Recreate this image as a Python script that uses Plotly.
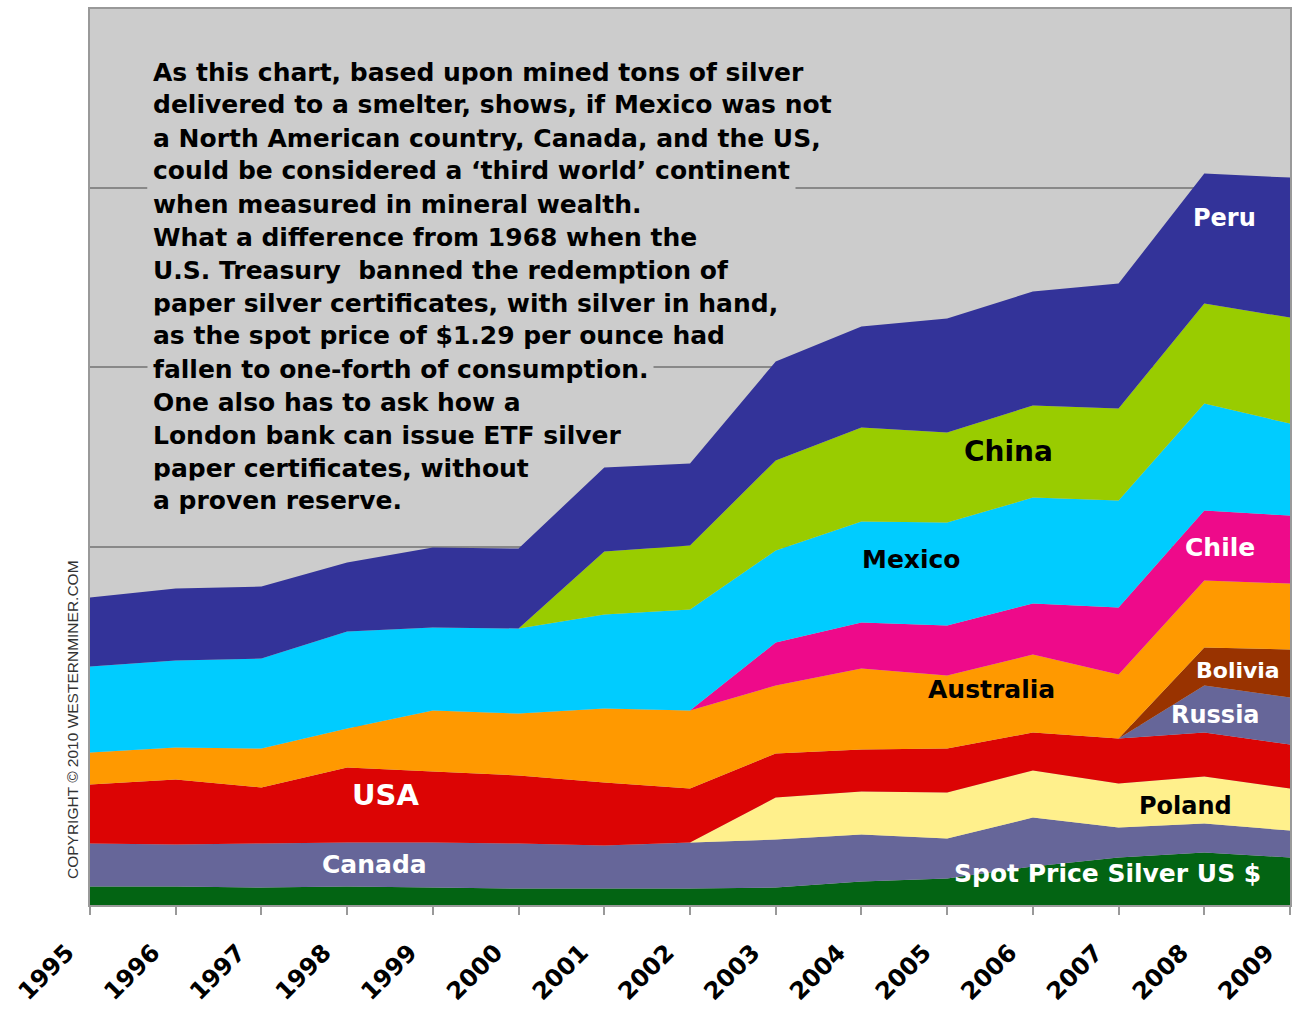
import plotly.graph_objects as go

years = list(range(1995, 2010))
tick_labels = [str(y) for y in years]

# Layer values (stacked, bottom to top) (arbitrary units; gridline = 5000)
spot_price = [516, 516, 488, 516, 488, 460, 460, 460, 488, 656, 739, 1074, 1325, 1465, 1325]
canada = [1200, 1172, 1228, 1228, 1256, 1256, 1200, 1283, 1339, 1311, 1116, 1367, 837, 809, 753]
poland = [0, 0, 0, 0, 0, 0, 0, 0, 1172, 1200, 1283, 1311, 1228, 1311, 1172]
usa = [1646, 1814, 1562, 2093, 1981, 1897, 1758, 1507, 1228, 1172, 1228, 1060, 1256, 1228, 1228]
russia = [0, 0, 0, 0, 0, 0, 0, 0, 0, 0, 0, 0, 0, 1311, 1311]
bolivia = [0, 0, 0, 0, 0, 0, 0, 0, 0, 0, 0, 0, 0, 1060, 1339]
australia = [893, 893, 1088, 1088, 1702, 1730, 2065, 2176, 1897, 2260, 2037, 2176, 1786, 1869, 1841]
chile = [0, 0, 0, 0, 0, 0, 0, 0, 1200, 1283, 1395, 1423, 1869, 1953, 1897]
mexico = [2399, 2427, 2511, 2706, 2316, 2372, 2623, 2818, 2567, 2818, 2874, 2957, 2985, 2985, 2567]
china = [0, 0, 0, 0, 0, 0, 1758, 1786, 2511, 2623, 2511, 2567, 2567, 2790, 2957]
peru = [1925, 2009, 2009, 1925, 2232, 2232, 2344, 2288, 2762, 2818, 3181, 3181, 3488, 3627, 3906]

series = [
    ("Spot Price Silver US $", spot_price, "#036413"),
    ("Canada", canada, "#666699"),
    ("Poland", poland, "#FFF08C"),
    ("USA", usa, "#DC0404"),
    ("Russia", russia, "#666699"),
    ("Bolivia", bolivia, "#993300"),
    ("Australia", australia, "#FF9900"),
    ("Chile", chile, "#EE0A8A"),
    ("Mexico", mexico, "#00CCFF"),
    ("China", china, "#99CC00"),
    ("Peru", peru, "#333399"),
]

paragraph = [
    "As this chart, based upon mined tons of silver",
    "delivered to a smelter, shows, if Mexico was not",
    "a North American country, Canada, and the US,",
    "could be considered a \u2018third world\u2019 continent",
    "when measured in mineral wealth.",
    "What a difference from 1968 when the",
    "U.S. Treasury\u00a0 banned the redemption of",
    "paper silver certificates, with silver in hand,",
    "as the spot price of $1.29 per ounce had",
    "fallen to one-forth of consumption.",
    "One also has to ask how a",
    "London bank can issue ETF silver",
    "paper certificates, without",
    "a proven reserve.",
]

W, H = 1294, 1009
L, R, T, B = 90, 2, 9, 104
YMAX = 25000
BOLD = "DejaVu Sans, Verdana, sans-serif"
PLAIN = "Liberation Sans, Arial, sans-serif"


def px_x(px):
    return 1995 + (px - L) / (W - L - R) * 14


def px_y(py):
    return (H - B - py) / (H - B - T) * YMAX


def ppx(px):
    return (px - L) / (W - L - R)


def ppy(py):
    return (H - B - py) / (H - B - T)


fig = go.Figure()
for name, vals, col in series:
    fig.add_trace(go.Scatter(
        x=years, y=vals, name=name, mode="lines",
        stackgroup="one", line=dict(width=0, color=col),
        fillcolor=col, hoverinfo="x+y+name",
    ))

annotations = []
for i, line in enumerate(paragraph):
    annotations.append(dict(
        xref="paper", yref="paper", x=ppx(147), y=ppy(72 + 33 * i),
        xanchor="left", yanchor="middle", showarrow=False,
        text="<b>" + line + "</b>", bgcolor="#CCCCCC", borderpad=5,
        font=dict(family=BOLD, size=25, color="#000000"),
    ))

labels = [
    ("Peru", 1226, 218, "#FFFFFF", 24),
    ("China", 1010, 451, "#000000", 28),
    ("Mexico", 913, 559, "#000000", 25),
    ("Chile", 1222, 547, "#FFFFFF", 25),
    ("Australia", 993, 689, "#000000", 25),
    ("Bolivia", 1240, 670, "#FFFFFF", 22),
    ("Russia", 1217, 715, "#FFFFFF", 24),
    ("USA", 386, 795, "#FFFFFF", 29),
    ("Poland", 1187, 806, "#000000", 24),
    ("Canada", 375, 864, "#FFFFFF", 25),
    ("Spot Price Silver US $", 1109, 873, "#FFFFFF", 25),
]
for txt, px, py, col, sz in labels:
    annotations.append(dict(
        xref="x", yref="y", x=px_x(px), y=px_y(py),
        xanchor="center", yanchor="middle", showarrow=False,
        text="<b>" + txt + "</b>",
        font=dict(family=BOLD, size=sz, color=col),
    ))

annotations.append(dict(
    xref="paper", yref="paper", x=ppx(72), y=ppy(720),
    xanchor="center", yanchor="middle", showarrow=False, textangle=-90,
    text="COPYRIGHT \u00a9 2010 WESTERNMINER.COM",
    font=dict(family=PLAIN, size=15.5, color="#333333"),
))

fig.update_layout(
    width=W, height=H,
    margin=dict(l=L, r=R, t=T, b=B, pad=0),
    paper_bgcolor="#FFFFFF", plot_bgcolor="#CCCCCC",
    showlegend=False,
    annotations=annotations,
    xaxis=dict(
        range=[1995, 2009], tickmode="array", tickvals=years, ticktext=tick_labels,
        tickangle=-45, ticks="outside", ticklen=8, tickwidth=1.5, tickcolor="#999999",
        showline=True, linecolor="#999999", linewidth=2, mirror=True,
        showgrid=False, zeroline=False, ticklabelstandoff=14, ticklabelshift=-23,
        tickfont=dict(family=BOLD, size=24, color="#000000", weight="bold"),
    ),
    yaxis=dict(
        range=[0, YMAX], dtick=5000, showticklabels=False, ticks="",
        showline=True, linecolor="#999999", linewidth=2, mirror=True,
        showgrid=True, gridcolor="#888888", gridwidth=1.5, zeroline=False,
    ),
)

fig.write_html(
    "out.html",
    config={"displayModeBar": False},
    post_script="document.body.style.margin='0';document.body.style.overflow='hidden';",
)
